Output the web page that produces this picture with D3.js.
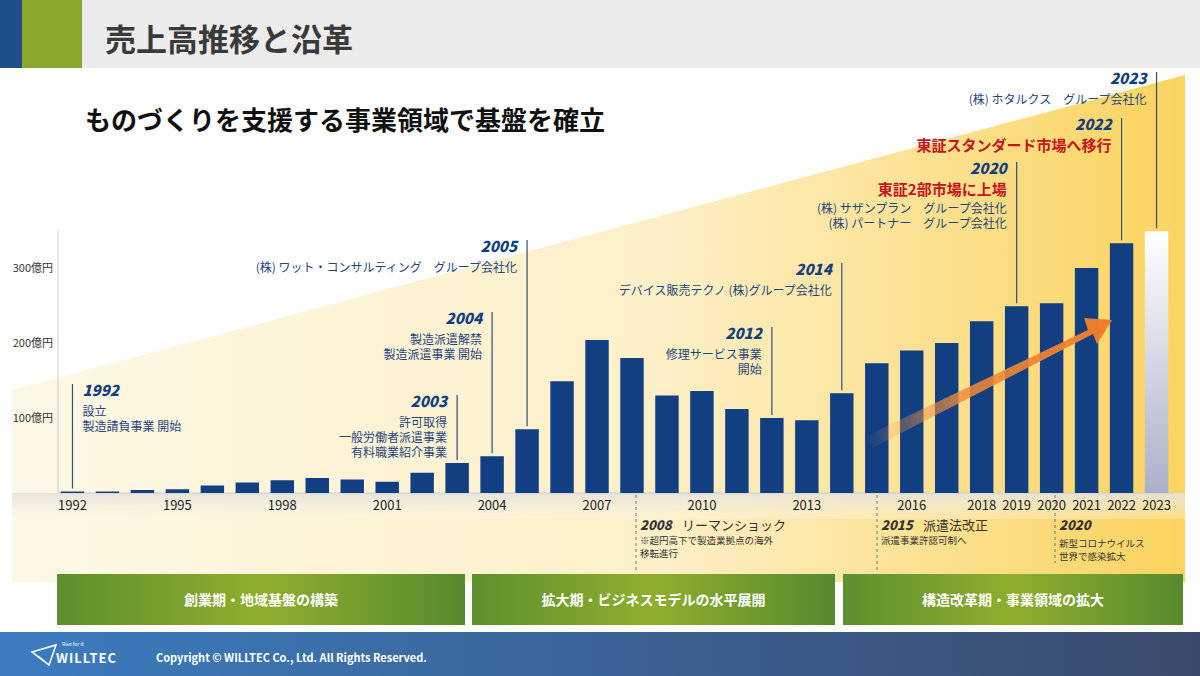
<!DOCTYPE html>
<html lang="ja">
<head>
<meta charset="UTF-8">
<title>売上高推移と沿革</title>
<script src="https://d3js.org/d3.v7.min.js"></script>
<style>
  body { margin: 0; background: #fff; }
  svg text { font-family: "Noto Sans CJK JP", "Noto Sans", sans-serif; }
</style>
</head>
<body>
<svg id="chart" width="1200" height="676"></svg>
<script>
// data
var years = d3.range(1992, 2024);
var sales = [2, 2, 4, 5, 10, 14, 17, 20, 18, 15, 27, 40, 49, 85, 149, 204, 180, 130, 136, 112, 100, 97, 133, 173, 190, 200, 229, 249, 253, 300, 333, 349];
var tickYears = [1992, 1995, 1998, 2001, 2004, 2007, 2010, 2013, 2016, 2018, 2019, 2020, 2021, 2022, 2023];
var yTicks = [100, 200, 300];
var phases = ["創業期・地域基盤の構築", "拡大期・ビジネスモデルの水平展開", "構造改革期・事業領域の拡大"];

// milestones: year, top of line, text lines
var milestones = [
  {year: 1992, top: 384, side: "right", lines: ["設立", "製造請負事業 開始"]},
  {year: 2003, top: 395, side: "left", lines: ["許可取得", "一般労働者派遣事業", "有料職業紹介事業"]},
  {year: 2004, top: 312, side: "left", lines: ["製造派遣解禁", "製造派遣事業 開始"]},
  {year: 2005, top: 240, side: "left", lines: ["(株) ワット・コンサルティング　グループ会社化"]},
  {year: 2012, top: 327, side: "left", lines: ["修理サービス事業", "開始"]},
  {year: 2014, top: 263, side: "left", lines: ["デバイス販売テクノ (株)グループ会社化"]},
  {year: 2019, top: 162, side: "left", lines: ["(株) サザンプラン　グループ会社化", "(株) パートナー　グループ会社化"], red: "東証2部市場に上場", label: 2020},
  {year: 2022, top: 118, side: "left", lines: [], red: "東証スタンダード市場へ移行"},
  {year: 2023, top: 72, side: "left", lines: ["(株) ホタルクス　グループ会社化"]}
];

var svg = d3.select("#chart");
var defs = svg.append("defs");

var x = d3.scaleBand().domain(years).range([52, 1177]).paddingInner(0.33).paddingOuter(0.25);
var y = d3.scaleLinear().domain([0, 100]).range([493, 418]);

function lin(id, x1, y1, x2, y2, stops) {
  var g = defs.append("linearGradient").attr("id", id)
    .attr("x1", x1).attr("y1", y1).attr("x2", x2).attr("y2", y2);
  stops.forEach(function(s) { g.append("stop").attr("offset", s[0]).attr("stop-color", s[1]).attr("stop-opacity", s[2] == null ? 1 : s[2]); });
}
lin("bgTri", 0, 0, 1, 0, [[0, "#fdf8e6"], [0.55, "#fdf0c8"], [1, "#fbd35e"]]);
lin("phase", 0, 0, 1, 0, [[0, "#5e8f2e"], [0.5, "#8fae2c"], [1, "#578a2f"]]);
lin("foot", 0, 0, 1, 0, [[0, "#3b7dc0"], [1, "#3b4a6c"]]);
lin("bar23", 0, 0, 0, 1, [[0, "#ffffff"], [1, "#a9b0c8"]]);
lin("arrow", 0, 0, 1, 0, [[0, "#f59a4f", 0], [0.4, "#f08a3a", 0.85], [1, "#ee7d2b"]]);
lin("axisBand", 0, 0, 0, 1, [[0, "#e4e2dc", 0.9], [1, "#fdf6e3", 0.3]]);

// background triangle
svg.append("path").attr("d", "M12,390 L1185,75 L1185,582 L12,582 Z").attr("fill", "url(#bgTri)");
svg.append("rect").attr("x", 12).attr("y", 493).attr("width", 1173).attr("height", 26).attr("fill", "url(#axisBand)");

// header
svg.append("rect").attr("x", 0).attr("y", 0).attr("width", 1200).attr("height", 68).attr("fill", "#ececec");
svg.append("rect").attr("x", 0).attr("y", 0).attr("width", 22).attr("height", 68).attr("fill", "#1f4e8c");
svg.append("rect").attr("x", 22).attr("y", 0).attr("width", 60).attr("height", 68).attr("fill", "#8aa829");
svg.append("text").attr("x", 105).attr("y", 51).attr("font-size", 31).attr("font-weight", 700).attr("fill", "#3a3a3a").text("売上高推移と沿革");
svg.append("text").attr("x", 85).attr("y", 130).attr("font-size", 26).attr("font-weight", 700).attr("fill", "#111").text("ものづくりを支援する事業領域で基盤を確立");

// y axis
svg.append("line").attr("x1", 58).attr("x2", 58).attr("y1", 230).attr("y2", 493).attr("stroke", "#ccc");
svg.selectAll(".ytick").data(yTicks).enter().append("text")
  .attr("x", 53).attr("y", function(d) { return y(d) + 4; }).attr("text-anchor", "end")
  .attr("font-size", 11).attr("fill", "#333").text(function(d) { return d + "億円"; });
svg.append("line").attr("x1", 58).attr("x2", 1174).attr("y1", 493).attr("y2", 493).attr("stroke", "#ccc");

// bars
svg.selectAll(".bar").data(years).enter().append("rect")
  .attr("x", function(d) { return x(d); })
  .attr("width", x.bandwidth())
  .attr("y", function(d, i) { return y(sales[i]); })
  .attr("height", function(d, i) { return 493 - y(sales[i]); })
  .attr("fill", function(d) { return d === 2023 ? "url(#bar23)" : "#123f82"; });

// x ticks
svg.selectAll(".xtick").data(tickYears).enter().append("text")
  .attr("x", function(d) { return x(d) + x.bandwidth() / 2; }).attr("y", 510)
  .attr("text-anchor", "middle").attr("font-size", 13).attr("fill", "#222").text(function(d) { return d; });

// growth arrow
svg.append("path")
  .attr("d", "M866,436 L1088,330 L1084,318 L1112,320 L1097,344 L1093,334 L872,448 Z")
  .attr("fill", "url(#arrow)");

// milestones
milestones.forEach(function(m) {
  var cx = x(m.year) + x.bandwidth() / 2;
  var idx = years.indexOf(m.year);
  var bottom = y(sales[idx]) - 3;
  svg.append("line").attr("x1", cx).attr("x2", cx).attr("y1", m.top).attr("y2", bottom)
    .attr("stroke", "#2d4f7c").attr("stroke-width", 1.2);
  var tx = m.side === "right" ? cx + 10 : cx - 10;
  var anchor = m.side === "right" ? "start" : "end";
  var ty = m.top + 12;
  svg.append("text").attr("x", tx).attr("y", ty).attr("text-anchor", anchor)
    .attr("font-size", 15).attr("font-weight", 900).attr("font-style", "italic")
    .attr("font-family", "DejaVu Sans").attr("fill", "#123f82").text(m.label || m.year);
  ty += 20;
  if (m.red) {
    svg.append("text").attr("x", tx).attr("y", ty + 1).attr("text-anchor", anchor)
      .attr("font-size", 15).attr("font-weight", 700).attr("fill", "#c8141e").text(m.red);
    ty += 19;
  }
  m.lines.forEach(function(l) {
    svg.append("text").attr("x", tx).attr("y", ty).attr("text-anchor", anchor)
      .attr("font-size", 12).attr("fill", "#1f467f").text(l);
    ty += 15;
  });
});

// lower events
var events = [
  {x: 636, title: "2008", head: "リーマンショック", lines: ["※超円高下で製造業拠点の海外", "移転進行"], y2: 572},
  {x: 877, title: "2015", head: "派遣法改正", lines: ["派遣事業許認可制へ"], y2: 572},
  {x: 1055, title: "2020", head: "", lines: ["新型コロナウイルス", "世界で感染拡大"], y2: 563}
];
events.forEach(function(e) {
  svg.append("line").attr("x1", e.x).attr("x2", e.x).attr("y1", 495).attr("y2", e.y2)
    .attr("stroke", "#777").attr("stroke-dasharray", "3,3");
  svg.append("text").attr("x", e.x + 4).attr("y", 530).attr("font-size", 13).attr("font-weight", 900)
    .attr("font-style", "italic").attr("font-family", "DejaVu Sans").attr("fill", "#333").text(e.title);
  svg.append("text").attr("x", e.x + 46).attr("y", 530).attr("font-size", 13).attr("fill", "#333").text(e.head);
  e.lines.forEach(function(l, i) {
    svg.append("text").attr("x", e.x + 4).attr("y", 544 + i * 13 + (e.head ? 0 : 3)).attr("font-size", 9.5).attr("fill", "#333").text(l);
  });
});

// phases
var phaseX = [57, 472, 843], phaseW = [408, 363, 340];
phases.forEach(function(p, i) {
  svg.append("rect").attr("x", phaseX[i]).attr("y", 574).attr("width", phaseW[i]).attr("height", 51).attr("fill", "url(#phase)");
  svg.append("text").attr("x", phaseX[i] + phaseW[i] / 2).attr("y", 605).attr("text-anchor", "middle")
    .attr("font-size", 14).attr("font-weight", 700).attr("fill", "#fff").text(p);
});

// footer
svg.append("rect").attr("x", 0).attr("y", 632).attr("width", 1200).attr("height", 44).attr("fill", "url(#foot)");
svg.append("path").attr("d", "M32,652 L56,645 L49,665 Z M38,656 L49,665").attr("fill", "none").attr("stroke", "#fff").attr("stroke-width", 1.5);
svg.append("text").attr("x", 62).attr("y", 646).attr("font-size", 5).attr("fill", "#fff").text("Rise for it");
svg.append("text").attr("x", 56).attr("y", 663).attr("font-size", 13).attr("font-weight", 700).attr("letter-spacing", 1).attr("fill", "#fff").text("WILLTEC");
svg.append("text").attr("x", 156).attr("y", 662).attr("font-size", 11).attr("font-weight", 700).attr("fill", "#fff").text("Copyright © WILLTEC Co., Ltd. All Rights Reserved.");
</script>
</body>
</html>
